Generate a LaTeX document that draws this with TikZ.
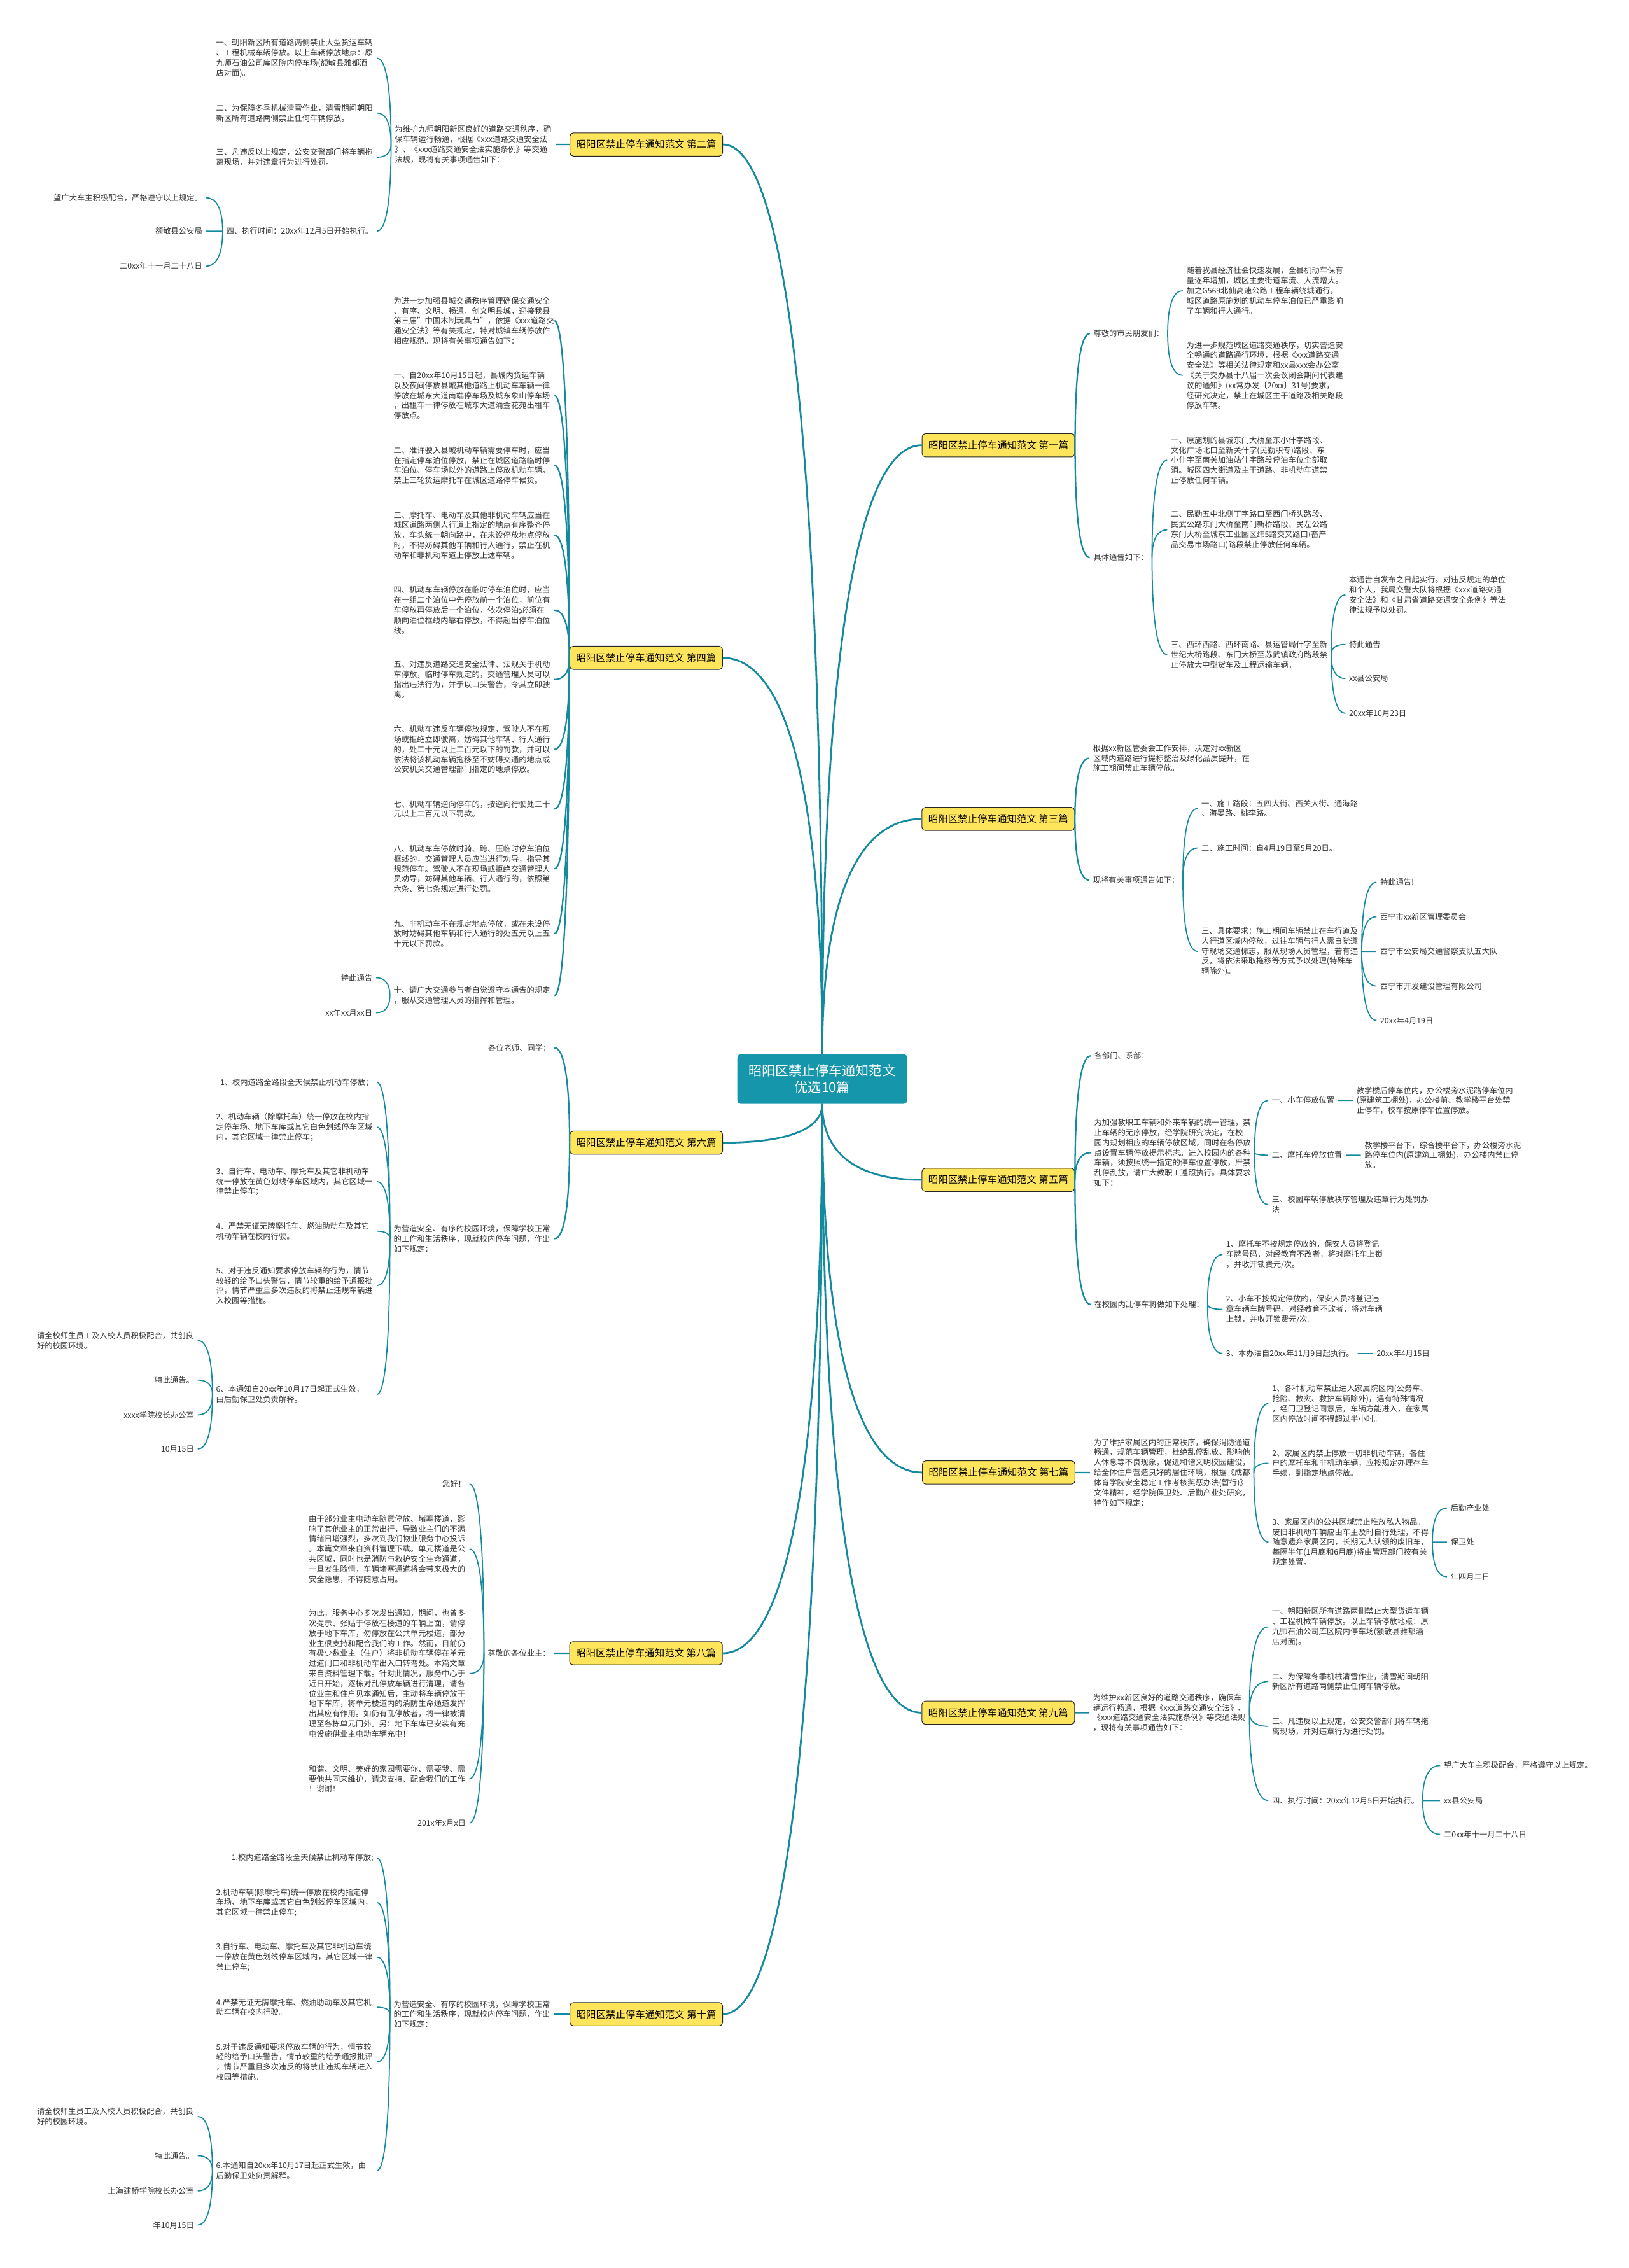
\documentclass[tikz,border=0pt]{standalone}
\usepackage{fontspec}
\setmainfont{Noto Sans CJK SC}
\usepackage{tikz}
\usetikzlibrary{calc, positioning}
\definecolor{cTeal}{RGB}{22,150,170}
\definecolor{cLine}{RGB}{20,138,158}
\definecolor{cYellow}{RGB}{255,229,92}
\definecolor{cText}{RGB}{51,51,51}
\tikzset{
	root/.style ={rectangle, rounded corners=3pt, fill=cTeal, text=white, align=center, font=\fontsize{12}{15}\selectfont, minimum width=5.34cm, minimum height=1.56cm},
	topic/.style={rectangle, rounded corners=3pt, draw=black!85, line width=0.6pt, fill=cYellow, text=black, font=\fontsize{8.8}{10}\selectfont, minimum width=4.8cm, minimum height=0.73cm, inner sep=0pt},
	leaf/.style ={align=left, text=cText, font=\fontsize{7}{9}\selectfont, inner xsep=0.11cm, inner ysep=1pt},
	leafL/.style={leaf, anchor=east},
	leafR/.style={leaf, anchor=west},
	wide/.style ={text width=140.5pt},
	% connector styles
	elbow/.style={to path={.. controls ($(\tikztostart)!0.7!(\tikztostart|-\tikztotarget)$) and ($(\tikztotarget)!0.6!(\tikztostart|-\tikztotarget)$) .. (\tikztotarget)}},
	trunk/.style={elbow, cLine, line width=1.6pt},
	stem/.style ={elbow, cLine, line width=1.3pt},
	twig/.style ={elbow, cLine, line width=1.0pt},
}
\begin{document}
\begin{tikzpicture}[x=0.04547cm, y=-0.04547cm]
	\fill[white] (0,0) rectangle (1126,1568);
	\useasboundingbox (0,0) rectangle (1126,1568);

	\node[root] (root) at (568.5,746) {昭阳区禁止停车通知范文\\优选10篇};

	\node[topic] (t1) at (690.3,307.8) {昭阳区禁止停车通知范文 第一篇};
	\node[topic] (t2) at (446.8,99.9) {昭阳区禁止停车通知范文 第二篇};
	\node[topic] (t3) at (690.2,566.2) {昭阳区禁止停车通知范文 第三篇};
	\node[topic] (t4) at (446.7,454.8) {昭阳区禁止停车通知范文 第四篇};
	\node[topic] (t5) at (690.2,815.7) {昭阳区禁止停车通知范文 第五篇};
	\node[topic] (t6) at (446.8,790) {昭阳区禁止停车通知范文 第六篇};
	\node[topic] (t7) at (690.5,1018) {昭阳区禁止停车通知范文 第七篇};
	\node[topic] (t8) at (446.6,1143) {昭阳区禁止停车通知范文 第八篇};
	\node[topic] (t9) at (690.2,1184.1) {昭阳区禁止停车通知范文 第九篇};
	\node[topic] (t10) at (446.8,1392.5) {昭阳区禁止停车通知范文 第十篇};

	% 第一篇
	\node[leafR] (t1a) at (753.5,230.6) {尊敬的市民朋友们：};
	\node[leafR] (t1b) at (753.5,385.5) {具体通告如下：};
	\node[leafR] (t1a1) at (817.8,201) {随着我县经济社会快速发展，全县机动车保有\\量逐年增加，城区主要街道车流、人流增大。\\加之G569北仙高速公路工程车辆绕城通行，\\城区道路原施划的机动车停车泊位已严重影响\\了车辆和行人通行。};
	\node[leafR] (t1a2) at (817.8,259.5) {为进一步规范城区道路交通秩序，切实营造安\\全畅通的道路通行环境，根据《xxx道路交通\\安全法》等相关法律规定和xx县xxx会办公室\\《关于交办县十八届一次会议闭会期间代表建\\议的通知》(xx常办发〔20xx〕31号)要求，\\经研究决定，禁止在城区主干道路及相关路段\\停放车辆。};
	\node[leafR] (t1b1) at (807,318.2) {一、原施划的县城东门大桥至东小什字路段、\\文化广场北口至新关什字(民勤职专)路段、东\\小什字至南关加油站什字路段停泊车位全部取\\消。城区四大街道及主干道路、非机动车道禁\\止停放任何车辆。};
	\node[leafR] (t1b2) at (807,366.3) {二、民勤五中北侧丁字路口至西门桥头路段、\\民武公路东门大桥至南门新桥路段、民左公路\\东门大桥至城东工业园区纬5路交叉路口(畜产\\品交易市场路口)路段禁止停放任何车辆。};
	\node[leafR] (t1b3) at (807,452.5) {三、西环西路、西环南路、县运管局什字至新\\世纪大桥路段、东门大桥至苏武镇政府路段禁\\止停放大中型货车及工程运输车辆。};
	\node[leafR] (t1b3a) at (930.2,411.2) {本通告自发布之日起实行。对违反规定的单位\\和个人，我局交警大队将根据《xxx道路交通\\安全法》和《甘肃省道路交通安全条例》等法\\律法规予以处罚。};
	\node[leafR] (t1b3b) at (930.2,445.5) {特此通告};
	\node[leafR] (t1b3c) at (930.2,469.1) {xx县公安局};
	\node[leafR] (t1b3d) at (930.2,493.2) {20xx年10月23日};

	% 第二篇
	\node[leafL,wide] (t2a) at (384.1,99.9) {为维护九师朝阳新区良好的道路交通秩序，确\\保车辆运行畅通，根据《xxx道路交通安全法\\》、《xxx道路交通安全法实施条例》等交通\\法规，现将有关事项通告如下：};
	\node[leafL,wide] (t2a1) at (260.6,40.2) {一、朝阳新区所有道路两侧禁止大型货运车辆\\、工程机械车辆停放。以上车辆停放地点：原\\九师石油公司库区院内停车场(额敏县雅都酒\\店对面)。};
	\node[leafL,wide] (t2a2) at (260.6,78.1) {二、为保障冬季机械清雪作业，清雪期间朝阳\\新区所有道路两侧禁止任何车辆停放。};
	\node[leafL,wide] (t2a3) at (260.6,108.7) {三、凡违反以上规定，公安交警部门将车辆拖\\离现场，并对违章行为进行处罚。};
	\node[leafL] (t2a4) at (260.6,159.8) {四、执行时间：20xx年12月5日开始执行。};
	\node[leafL] (t2a4a) at (142.4,136.7) {望广大车主积极配合，严格遵守以上规定。};
	\node[leafL] (t2a4b) at (142.4,159.8) {额敏县公安局};
	\node[leafL] (t2a4c) at (142.4,184) {二0xx年十一月二十八日};

	% 第三篇
	\node[leafR] (t3a) at (753.2,524.2) {根据xx新区管委会工作安排，决定对xx新区\\区域内道路进行提标整治及绿化品质提升，在\\施工期间禁止车辆停放。};
	\node[leafR] (t3b) at (753.2,608.5) {现将有关事项通告如下：};
	\node[leafR] (t3b1) at (828.1,558.9) {一、施工路段：五四大街、西关大街、通海路\\、海晏路、桃李路。};
	\node[leafR] (t3b2) at (828.1,586.2) {二、施工时间：自4月19日至5月20日。};
	\node[leafR] (t3b3) at (828.1,657.8) {三、具体要求：施工期间车辆禁止在车行道及\\人行道区域内停放，过往车辆与行人需自觉遵\\守现场交通标志，服从现场人员管理，若有违\\反，将依法采取拖移等方式予以处理(特殊车\\辆除外)。};
	\node[leafR] (t3b3a) at (951.7,609.9) {特此通告!};
	\node[leafR] (t3b3b) at (951.7,633.7) {西宁市xx新区管理委员会};
	\node[leafR] (t3b3c) at (951.7,657.8) {西宁市公安局交通警察支队五大队};
	\node[leafR] (t3b3d) at (951.7,681.8) {西宁市开发建设管理有限公司};
	\node[leafR] (t3b3e) at (951.7,705.5) {20xx年4月19日};

	% 第四篇
	\node[leafL,wide] (t4a) at (383.3,221.8) {为进一步加强县城交通秩序管理确保交通安全\\、有序、文明、畅通，创文明县城，迎接我县\\第三届"中国木制玩具节"，依据《xxx道路交\\通安全法》等有关规定，特对城镇车辆停放作\\相应规范。现将有关事项通告如下：};
	\node[leafL,wide] (t4b) at (383.3,273.4) {一、自20xx年10月15日起，县城内货运车辆\\以及夜间停放县城其他道路上机动车车辆一律\\停放在城东大道南端停车场及城东象山停车场\\，出租车一律停放在城东大道涌金花苑出租车\\停放点。};
	\node[leafL,wide] (t4c) at (383.3,321.7) {二、准许驶入县城机动车辆需要停车时，应当\\在指定停车泊位停放，禁止在城区道路临时停\\车泊位、停车场以外的道路上停放机动车辆。\\禁止三轮货运摩托车在城区道路停车候货。};
	\node[leafL,wide] (t4d) at (383.3,370) {三、摩托车、电动车及其他非机动车辆应当在\\城区道路两侧人行道上指定的地点有序整齐停\\放，车头统一朝向路中，在未设停放地点停放\\时，不得妨碍其他车辆和行人通行，禁止在机\\动车和非机动车道上停放上述车辆。};
	\node[leafL,wide] (t4e) at (383.3,421.8) {四、机动车车辆停放在临时停车泊位时，应当\\在一组二个泊位中先停放前一个泊位，前位有\\车停放再停放后一个泊位，依次停泊;必须在\\顺向泊位框线内靠右停放，不得超出停车泊位\\线。};
	\node[leafL,wide] (t4f) at (383.3,469.8) {五、对违反道路交通安全法律、法规关于机动\\车停放，临时停车规定的，交通管理人员可以\\指出违法行为，并予以口头警告，令其立即驶\\离。};
	\node[leafL,wide] (t4g) at (383.3,518.1) {六、机动车违反车辆停放规定，驾驶人不在现\\场或拒绝立即驶离，妨碍其他车辆、行人通行\\的，处二十元以上二百元以下的罚款，并可以\\依法将该机动车辆拖移至不妨碍交通的地点或\\公安机关交通管理部门指定的地点停放。};
	\node[leafL,wide] (t4h) at (383.3,559.3) {七、机动车辆逆向停车的，按逆向行驶处二十\\元以上二百元以下罚款。};
	\node[leafL,wide] (t4i) at (383.3,600.7) {八、机动车车停放时骑、跨、压临时停车泊位\\框线的，交通管理人员应当进行劝导，指导其\\规范停车。驾驶人不在现场或拒绝交通管理人\\员劝导，妨碍其他车辆、行人通行的，依照第\\六条、第七条规定进行处罚。};
	\node[leafL,wide] (t4j) at (383.3,645.5) {九、非机动车不在规定地点停放，或在未设停\\放时妨碍其他车辆和行人通行的处五元以上五\\十元以下罚款。};
	\node[leafL,wide] (t4k) at (383.3,688.2) {十、请广大交通参与者自觉遵守本通告的规定\\，服从交通管理人员的指挥和管理。};
	\node[leafL] (t4k1) at (260,676) {特此通告};
	\node[leafL] (t4k2) at (260,700.2) {xx年xx月xx日};

	% 第五篇
	\node[leafR] (t5a) at (754,730) {各部门、系部：};
	\node[leafR] (t5b) at (754,796.9) {为加强教职工车辆和外来车辆的统一管理，禁\\止车辆的无序停放，经学院研究决定，在校\\园内规划相应的车辆停放区域，同时在各停放\\点设置车辆停放提示标志。进入校园内的各种\\车辆，须按照统一指定的停车位置停放，严禁\\乱停乱放，请广大教职工遵照执行。具体要求\\如下：};
	\node[leafR] (t5c) at (754,901.8) {在校园内乱停车将做如下处理：};
	\node[leafR] (t5b1) at (876.8,760.8) {一、小车停放位置};
	\node[leafR] (t5b1a) at (935.3,760.8) {教学楼后停车位内，办公楼旁水泥路停车位内\\(原建筑工棚处)，办公楼前、教学楼平台处禁\\止停车，校车按原停车位置停放。};
	\node[leafR] (t5b2) at (876.8,798.6) {二、摩托车停放位置};
	\node[leafR] (t5b2a) at (940.9,798.6) {教学楼平台下，综合楼平台下，办公楼旁水泥\\路停车位内(原建筑工棚处)，办公楼内禁止停\\放。};
	\node[leafR] (t5b3) at (876.8,832.8) {三、校园车辆停放秩序管理及违章行为处罚办\\法};
	\node[leafR] (t5c1) at (845.2,867.3) {1、摩托车不按规定停放的，保安人员将登记\\车牌号码，对经教育不改者，将对摩托车上锁\\，并收开锁费元/次。};
	\node[leafR] (t5c2) at (845.2,905.2) {2、小车不按规定停放的，保安人员将登记违\\章车辆车牌号码，对经教育不改者，将对车辆\\上锁，并收开锁费元/次。};
	\node[leafR] (t5c3) at (845.2,935.8) {3、本办法自20xx年11月9日起执行。};
	\node[leafR] (t5c3a) at (949.3,935.8) {20xx年4月15日};

	% 第六篇
	\node[leafL] (t6a) at (383.3,724.4) {各位老师、同学：};
	\node[leafL,wide] (t6b) at (383.3,856.4) {为营造安全、有序的校园环境，保障学校正常\\的工作和生活秩序，现就校内停车问题，作出\\如下规定：};
	\node[leafL] (t6b1) at (260.6,748.3) {1、校内道路全路段全天候禁止机动车停放；};
	\node[leafL,wide] (t6b2) at (260.6,779.2) {2、机动车辆（除摩托车）统一停放在校内指\\定停车场、地下车库或其它白色划线停车区域\\内，其它区域一律禁止停车；};
	\node[leafL,wide] (t6b3) at (260.6,816.9) {3、自行车、电动车、摩托车及其它非机动车\\统一停放在黄色划线停车区域内，其它区域一\\律禁止停车；};
	\node[leafL,wide] (t6b4) at (260.6,851.2) {4、严禁无证无牌摩托车、燃油助动车及其它\\机动车辆在校内行驶。};
	\node[leafL,wide] (t6b5) at (260.6,888.8) {5、对于违反通知要求停放车辆的行为，情节\\较轻的给予口头警告，情节较重的给予通报批\\评，情节严重且多次违反的将禁止违规车辆进\\入校园等措施。};
	\node[leafL,wide] (t6b6) at (260.6,964) {6、本通知自20xx年10月17日起正式生效，\\由后勤保卫处负责解释。};
	\node[leafL,wide] (t6b6a) at (136.7,926.7) {请全校师生员工及入校人员积极配合，共创良\\好的校园环境。};
	\node[leafL] (t6b6b) at (136.7,954.1) {特此通告。};
	\node[leafL] (t6b6c) at (136.7,978.2) {xxxx学院校长办公室};
	\node[leafL] (t6b6d) at (136.7,1001.8) {10月15日};

	% 第七篇
	\node[leafR] (t7a) at (753.6,1018) {为了维护家属区内的正常秩序，确保消防通道\\畅通，规范车辆管理，杜绝乱停乱放、影响他\\人休息等不良现象，促进和谐文明校园建设，\\给全体住户营造良好的居住环境，根据《成都\\体育学院安全稳定工作考核奖惩办法(暂行)》\\文件精神，经学院保卫处、后勤产业处研究，\\特作如下规定：};
	\node[leafR] (t7a1) at (877,970.4) {1、各种机动车禁止进入家属院区内(公务车、\\抢险、救灾、救护车辆除外)，遇有特殊情况\\，经门卫登记同意后，车辆方能进入，在家属\\区内停放时间不得超过半小时。};
	\node[leafR] (t7a2) at (877,1011.6) {2、家属区内禁止停放一切非机动车辆，各住\\户的摩托车和非机动车辆，应按规定办理存车\\手续，到指定地点停放。};
	\node[leafR] (t7a3) at (877,1066.1) {3、家属区内的公共区域禁止堆放私人物品。\\废旧非机动车辆应由车主及时自行处理，不得\\随意遗弃家属区内，长期无人认领的废旧车，\\每隔半年(1月底和6月底)将由管理部门按有关\\规定处置。};
	\node[leafR] (t7a3a) at (1000.4,1042.5) {后勤产业处};
	\node[leafR] (t7a3b) at (1000.4,1066.1) {保卫处};
	\node[leafR] (t7a3c) at (1000.4,1090.1) {年四月二日};

	% 第八篇
	\node[leafL] (t8a) at (383,1143) {尊敬的各位业主：};
	\node[leafL] (t8a1) at (324.6,1026) {您好！};
	\node[leafL,wide] (t8a2) at (324.6,1070.9) {由于部分业主电动车随意停放、堵塞楼道，影\\响了其他业主的正常出行，导致业主们的不满\\情绪日增强烈，多次到我们物业服务中心投诉\\。本篇文章来自资料管理下载。单元楼道是公\\共区域，同时也是消防与救护安全生命通道，\\一旦发生险情，车辆堵塞通道将会带来极大的\\安全隐患，不得随意占用。};
	\node[leafL,wide] (t8a3) at (324.6,1157) {为此，服务中心多次发出通知，期间，也曾多\\次提示、张贴于停放在楼道的车辆上面，请停\\放于地下车库，勿停放在公共单元楼道，部分\\业主很支持和配合我们的工作。然而，目前仍\\有极少数业主（住户）将非机动车辆停在单元\\过道门口和非机动车出入口转弯处。本篇文章\\来自资料管理下载。针对此情况，服务中心于\\近日开始，逐栋对乱停放车辆进行清理，请各\\位业主和住户见本通知后，主动将车辆停放于\\地下车库，将单元楼道内的消防生命通道发挥\\出其应有作用。如仍有乱停放者，将一律被清\\理至各栋单元门外。另：地下车库已安装有充\\电设施供业主电动车辆充电！};
	\node[leafL,wide] (t8a4) at (324.6,1229.8) {和谐、文明、美好的家园需要你、需要我、需\\要他共同来维护，请您支持、配合我们的工作\\！谢谢！};
	\node[leafL] (t8a5) at (324.6,1260.4) {201x年x月x日};

	% 第九篇
	\node[leafR] (t9a) at (753.2,1184.1) {为维护xx新区良好的道路交通秩序，确保车\\辆运行畅通，根据《xxx道路交通安全法》、\\《xxx道路交通安全法实施条例》等交通法规\\，现将有关事项通告如下：};
	\node[leafR] (t9a1) at (876.9,1124.7) {一、朝阳新区所有道路两侧禁止大型货运车辆\\、工程机械车辆停放。以上车辆停放地点：原\\九师石油公司库区院内停车场(额敏县雅都酒\\店对面)。};
	\node[leafR] (t9a2) at (876.9,1162.5) {二、为保障冬季机械清雪作业，清雪期间朝阳\\新区所有道路两侧禁止任何车辆停放。};
	\node[leafR] (t9a3) at (876.9,1193.5) {三、凡违反以上规定，公安交警部门将车辆拖\\离现场，并对违章行为进行处罚。};
	\node[leafR] (t9a4) at (876.9,1244.8) {四、执行时间：20xx年12月5日开始执行。};
	\node[leafR] (t9a4a) at (995.7,1220.6) {望广大车主积极配合，严格遵守以上规定。};
	\node[leafR] (t9a4b) at (995.7,1244.8) {xx县公安局};
	\node[leafR] (t9a4c) at (995.7,1268.2) {二0xx年十一月二十八日};

	% 第十篇
	\node[leafL,wide] (t10a) at (383.3,1392.5) {为营造安全、有序的校园环境，保障学校正常\\的工作和生活秩序，现就校内停车问题，作出\\如下规定：};
	\node[leafL] (t10a1) at (260.6,1284.6) {1.校内道路全路段全天候禁止机动车停放;};
	\node[leafL,wide] (t10a2) at (260.6,1315.4) {2.机动车辆(除摩托车)统一停放在校内指定停\\车场、地下车库或其它白色划线停车区域内，\\其它区域一律禁止停车;};
	\node[leafL,wide] (t10a3) at (260.6,1353.1) {3.自行车、电动车、摩托车及其它非机动车统\\一停放在黄色划线停车区域内，其它区域一律\\禁止停车;};
	\node[leafL,wide] (t10a4) at (260.6,1387.7) {4.严禁无证无牌摩托车、燃油助动车及其它机\\动车辆在校内行驶。};
	\node[leafL,wide] (t10a5) at (260.6,1425.5) {5.对于违反通知要求停放车辆的行为，情节较\\轻的给予口头警告，情节较重的给予通报批评\\，情节严重且多次违反的将禁止违规车辆进入\\校园等措施。};
	\node[leafL,wide] (t10a6) at (260.6,1500.7) {6.本通知自20xx年10月17日起正式生效，由\\后勤保卫处负责解释。};
	\node[leafL,wide] (t10a6a) at (136.7,1463.2) {请全校师生员工及入校人员积极配合，共创良\\好的校园环境。};
	\node[leafL] (t10a6b) at (136.7,1490.3) {特此通告。};
	\node[leafL] (t10a6c) at (136.7,1514.7) {上海建桥学院校长办公室};
	\node[leafL] (t10a6d) at (136.7,1538.3) {年10月15日};

	% main branches
	\foreach \t in {t1,t3} \draw[trunk] (root.north) to (\t.west);
	\foreach \t in {t2,t4} \draw[trunk] (root.north) to (\t.east);
	\foreach \t in {t5,t7,t9} \draw[trunk] (root.south) to (\t.west);
	\foreach \t in {t6,t8,t10} \draw[trunk] (root.south) to (\t.east);

	% right side
	\foreach \c in {t1a,t1b} \draw[stem] (t1.east) to (\c.west);
	\foreach \c in {t1a1,t1a2} \draw[twig] (t1a.east) to (\c.west);
	\foreach \c in {t1b1,t1b2,t1b3} \draw[twig] (t1b.east) to (\c.west);
	\foreach \c in {t1b3a,t1b3b,t1b3c,t1b3d} \draw[twig] (t1b3.east) to (\c.west);
	\foreach \c in {t3a,t3b} \draw[stem] (t3.east) to (\c.west);
	\foreach \c in {t3b1,t3b2,t3b3} \draw[twig] (t3b.east) to (\c.west);
	\foreach \c in {t3b3a,t3b3b,t3b3c,t3b3d,t3b3e} \draw[twig] (t3b3.east) to (\c.west);
	\foreach \c in {t5a,t5b,t5c} \draw[stem] (t5.east) to (\c.west);
	\foreach \c in {t5b1,t5b2,t5b3} \draw[twig] (t5b.east) to (\c.west);
	\draw[twig] (t5b1.east) to (t5b1a.west);
	\draw[twig] (t5b2.east) to (t5b2a.west);
	\foreach \c in {t5c1,t5c2,t5c3} \draw[twig] (t5c.east) to (\c.west);
	\draw[twig] (t5c3.east) to (t5c3a.west);
	\draw[stem] (t7.east) to (t7a.west);
	\foreach \c in {t7a1,t7a2,t7a3} \draw[twig] (t7a.east) to (\c.west);
	\foreach \c in {t7a3a,t7a3b,t7a3c} \draw[twig] (t7a3.east) to (\c.west);
	\draw[stem] (t9.east) to (t9a.west);
	\foreach \c in {t9a1,t9a2,t9a3,t9a4} \draw[twig] (t9a.east) to (\c.west);
	\foreach \c in {t9a4a,t9a4b,t9a4c} \draw[twig] (t9a4.east) to (\c.west);

	% left side
	\draw[stem] (t2.west) to (t2a.east);
	\foreach \c in {t2a1,t2a2,t2a3,t2a4} \draw[twig] (t2a.west) to (\c.east);
	\foreach \c in {t2a4a,t2a4b,t2a4c} \draw[twig] (t2a4.west) to (\c.east);
	\foreach \c in {t4a,t4b,t4c,t4d,t4e,t4f,t4g,t4h,t4i,t4j,t4k} \draw[stem] (t4.west) to (\c.east);
	\foreach \c in {t4k1,t4k2} \draw[twig] (t4k.west) to (\c.east);
	\foreach \c in {t6a,t6b} \draw[stem] (t6.west) to (\c.east);
	\foreach \c in {t6b1,t6b2,t6b3,t6b4,t6b5,t6b6} \draw[twig] (t6b.west) to (\c.east);
	\foreach \c in {t6b6a,t6b6b,t6b6c,t6b6d} \draw[twig] (t6b6.west) to (\c.east);
	\draw[stem] (t8.west) to (t8a.east);
	\foreach \c in {t8a1,t8a2,t8a3,t8a4,t8a5} \draw[twig] (t8a.west) to (\c.east);
	\draw[stem] (t10.west) to (t10a.east);
	\foreach \c in {t10a1,t10a2,t10a3,t10a4,t10a5,t10a6} \draw[twig] (t10a.west) to (\c.east);
	\foreach \c in {t10a6a,t10a6b,t10a6c,t10a6d} \draw[twig] (t10a6.west) to (\c.east);
\end{tikzpicture}
\end{document}
